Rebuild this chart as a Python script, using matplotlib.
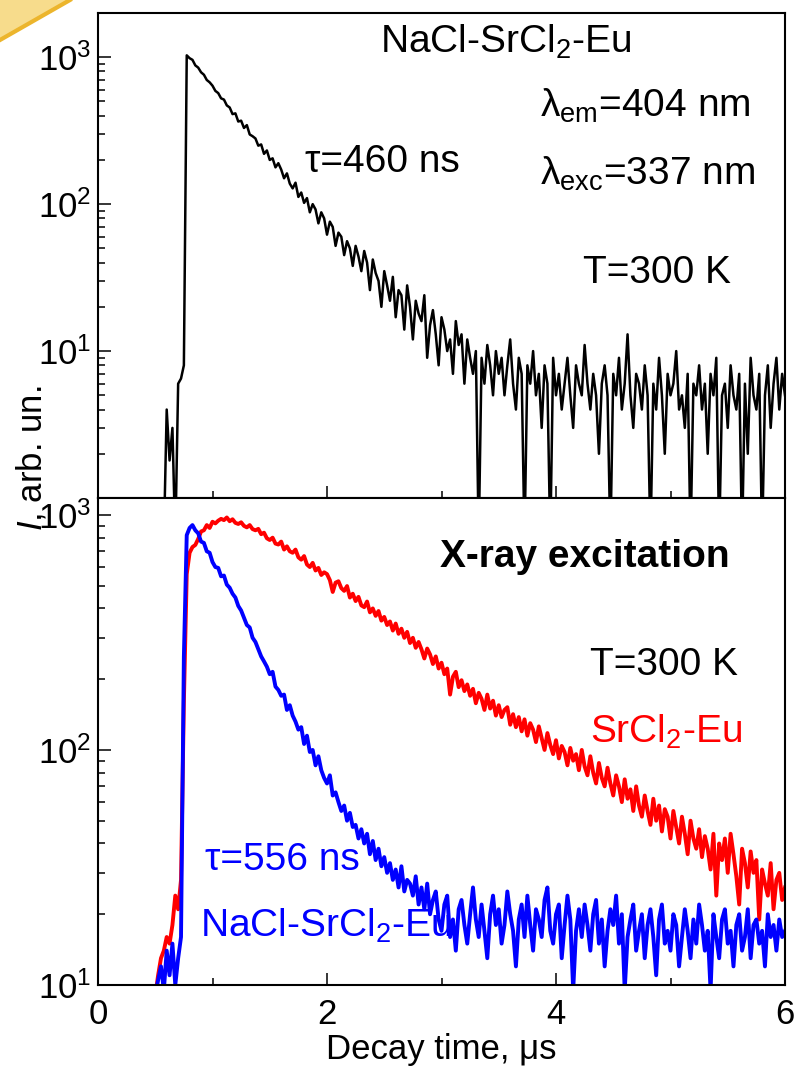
"""Decay curves of NaCl-SrCl2-Eu (photo- and X-ray excitation), two stacked log panels."""

import numpy as np
import matplotlib
matplotlib.use("Agg")
import matplotlib.pyplot as plt
from matplotlib.patches import Polygon
from matplotlib.lines import Line2D
from matplotlib.ticker import MultipleLocator, LogLocator, FixedLocator, NullFormatter

plt.rcParams["font.family"] = ["Liberation Sans", "DejaVu Sans"]
plt.rcParams["mathtext.fontset"] = "custom"
plt.rcParams["mathtext.rm"] = "Liberation Sans"
plt.rcParams["mathtext.it"] = "Liberation Sans:italic"
plt.rcParams["mathtext.bf"] = "Liberation Sans:bold"

# --- data ------------------------------------------------------------------
# photo-excitation (337 nm), sampled every 25 ns from 0.55 us
t_photo = np.round(0.55 + 0.025 * np.arange(219), 4)
i_photo = [
    0.5, 0.5, 4.0, 1.8, 3.0, 0.5, 6.0, 6.5, 8.0,
    1030, 985, 960, 880, 850, 790, 760, 700, 675, 640,
    590, 570, 525, 515, 470, 455, 410, 415, 365, 370,
    330, 345, 298, 290, 280, 250, 255, 220, 232, 200,
    205, 178, 190, 172, 150, 162, 138, 128, 140, 112,
    120, 102, 110, 88, 100, 92, 74, 88, 80, 62,
    76, 70, 52, 64, 60, 45, 56, 50, 38, 52,
    44, 35, 48, 40, 26, 42, 34, 30, 20, 35,
    28, 22, 32, 17, 26, 24, 14, 28, 20, 12,
    22, 18, 16, 24, 9, 15, 19, 13, 8, 17,
    14, 10, 12, 7, 16, 11, 13, 6, 12, 9,
    7, 10, 0.5, 9, 6, 11, 8, 5, 10, 7,
    9, 5, 8, 12, 6, 4, 9, 7, 0.5, 8,
    6, 10, 5, 7, 3, 8, 6, 0.5, 9, 5,
    7, 4, 6, 9, 5, 3, 8, 6, 5, 11,
    6, 4, 7, 5, 2, 6, 8, 5, 0.5, 7,
    5, 9, 4, 6, 13, 5, 3, 7, 6, 4,
    8, 5, 0.5, 6, 4, 9, 5, 2, 7, 5,
    6, 10, 4, 5, 3, 7, 0.5, 6, 5, 8,
    4, 6, 2, 7, 5, 9, 0.5, 5, 6, 3,
    8, 5, 4, 7, 0.5, 6, 2, 9, 5, 4,
    7, 0.5, 5, 8, 3, 6, 9, 4, 7, 5,
]

# X-ray excitation, sampled every 25 ns from 0.50 us
t_xray = np.round(0.50 + 0.025 * np.arange(221), 4)
i_srcl2 = [
    9, 11, 13, 14, 16, 15, 18, 24, 21, 28,
    160, 560, 690, 730, 745, 790, 850, 860, 905, 880,
    935, 920, 945, 962, 950, 975, 940, 958, 925, 915,
    930, 898, 885, 905, 870, 860, 872, 828, 840, 795,
    782, 800, 755, 748, 770, 712, 735, 700, 690, 712,
    660, 645, 668, 615, 600, 625, 580, 595, 555, 570,
    560, 528, 470, 515, 522, 488, 475, 498, 445, 462,
    430, 448, 412, 405, 428, 385, 400, 372, 390, 355,
    368, 340, 352, 322, 345, 312, 328, 300, 318, 285,
    300, 272, 288, 268, 245, 270, 255, 232, 250, 222,
    235, 210, 222, 172, 205, 215, 185, 198, 178, 190,
    170, 182, 158, 175, 165, 148, 172, 150, 162, 140,
    155, 138, 148, 152, 128, 142, 125, 138, 120, 135,
    115, 130, 122, 108, 126, 112, 100, 118, 105, 96,
    110, 92, 104, 98, 86, 102, 90, 96, 82, 100,
    85, 78, 94, 80, 72, 88, 76, 70, 84, 72,
    64, 78, 70, 60, 75, 62, 68, 55, 70, 58,
    52, 64, 55, 48, 62, 50, 58, 45, 56, 52,
    42, 55, 47, 40, 52, 44, 36, 50, 42, 38,
    46, 35, 43, 38, 31, 44, 24, 40, 34, 42,
    30, 44, 36, 29, 22, 38, 33, 26, 37, 30,
    34, 19, 31, 27, 24, 33, 21, 28, 30, 23,
    26,
]
i_nacl = [
    9, 10.5, 12, 9.5, 14, 11, 15, 10, 13, 16,
    250, 820, 880, 905, 860, 835, 770, 760, 700, 690,
    630, 600, 595, 548, 552, 505, 490, 462, 445, 410,
    392, 365, 340, 332, 300, 288, 268, 250, 238, 226,
    210, 215, 186, 180, 170, 172, 148, 155, 140, 132,
    122, 125, 106, 115, 98, 100, 86, 94, 82, 76,
    72, 78, 64, 66, 60, 55, 58, 50, 54, 47,
    48, 42, 46, 40, 44, 36, 41, 34, 38, 32,
    35, 30, 33, 28, 31, 26, 32, 25, 28, 27,
    24, 29, 22, 26, 21, 27, 20, 23, 25, 19,
    17, 22, 24, 16, 19, 14, 21, 23, 18, 15,
    20, 26, 19, 16, 22, 17, 13, 20, 24, 18,
    21, 15, 18, 25, 20, 17, 12, 19, 22, 16,
    24, 18, 14, 21, 19, 16, 23, 26, 17, 15,
    20, 22, 13, 18, 24, 19, 9.5, 17, 21, 16,
    22, 18, 14, 20, 23, 15, 19, 12, 17, 21,
    18, 24, 15, 20, 9.5, 16, 19, 22, 14, 17,
    20, 13, 18, 21, 16, 11, 19, 22, 15, 17,
    14, 20, 18, 12, 16, 21, 17, 13, 19, 15,
    22, 18, 14, 17, 9.5, 20, 16, 13, 19, 21,
    15, 17, 12, 18, 20, 14, 16, 21, 13, 18,
    19, 15, 17, 12, 20, 16, 18, 14, 19, 16,
    17,
]

W, H = 796, 1079  # output size in pixels


def fx(x):
    return x / W


def fy(y):
    return 1 - y / H


fig = plt.figure(figsize=(W / 100, H / 100), dpi=100)

# decorative swoosh in the top-left corner
fig.add_artist(Polygon([(0, 1), (fx(70), 1), (0, fy(40))], closed=True,
                       transform=fig.transFigure, facecolor="#f7dc8c",
                       edgecolor="none"))
fig.add_artist(Line2D([fx(70), 0], [1, fy(40)], transform=fig.transFigure,
                      color="#ecb52c", lw=3))

left, right = 98, 785
ax1 = fig.add_axes([fx(left), fy(498), fx(right - left), (498 - 13) / H])
ax2 = fig.add_axes([fx(left), fy(985), fx(right - left), (985 - 498) / H])

ax1.plot(t_photo, i_photo, color="black", lw=1.8)
ax2.plot(t_xray, i_srcl2, color="#ff0000", lw=2.8)
ax2.plot(t_xray, i_nacl, color="#0000ff", lw=2.8)

for ax, ylim in ((ax1, (1, 2000)), (ax2, (10, 1180))):
    ax.set_yscale("log")
    ax.set_ylim(*ylim)
    ax.set_xlim(0, 6)
    ax.xaxis.set_major_locator(MultipleLocator(2))
    ax.xaxis.set_minor_locator(MultipleLocator(1))
    ax.yaxis.set_major_locator(FixedLocator([10, 100, 1000]))
    ax.yaxis.set_minor_locator(LogLocator(base=10, subs=np.arange(2, 10)))
    ax.yaxis.set_minor_formatter(NullFormatter())
    ax.tick_params(which="both", direction="in", top=False, right=False,
                   labelsize=25, width=1.1)
    ax.tick_params(axis="x", which="major", length=9, pad=9)
    ax.tick_params(axis="x", which="minor", length=5)
    ax.tick_params(axis="y", which="major", length=9.5, pad=5)
    ax.tick_params(axis="y", which="minor", length=5)
    for sp in ax.spines.values():
        sp.set_linewidth(1.5)

ax1.tick_params(axis="x", labelbottom=False)
ax2.set_xlabel("Decay time, μs", fontsize=25, labelpad=2)

fig.text(fx(31), fy(458), r"$I$, arb. un.", rotation=90, ha="center",
         va="center", fontsize=25)


def note(x, y, s, **kw):
    fig.text(fx(x), fy(y), s, ha="left", va="baseline", fontsize=28, **kw)


# top panel
note(380, 53, r"NaCl-SrCl$_2$-Eu")
note(540, 117, r"λ$_{\rm em}$=404 nm")
note(540, 185, r"λ$_{\rm exc}$=337 nm")
note(305, 172, "τ=460 ns")
note(583, 283, "T=300 K")

# bottom panel
note(440, 567, "X-ray excitation", fontweight="bold")
note(590, 675, "T=300 K")
note(590, 743, r"SrCl$_2$-Eu", color="#ff0000")
note(205, 870, "τ=556 ns", color="#0000ff")
note(200, 937, r"NaCl-SrCl$_2$-Eu", color="#0000ff")

fig.savefig("out.png", dpi=100)
